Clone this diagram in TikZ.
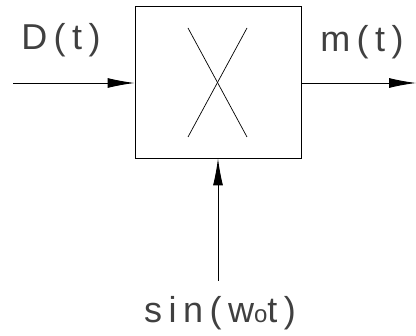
\documentclass[tikz,border=0pt]{standalone}
\usepackage{fontspec}
\setmainfont{Liberation Sans}
\usetikzlibrary{arrows.meta,positioning,calc}

\begin{document}
\begin{tikzpicture}[x=1pt, y=-1pt,
  mbox/.style={rectangle, draw=black, line width=0.9pt,
               minimum width=166pt, minimum height=152pt, inner sep=0pt},
  lbl/.style={font=\fontsize{36}{40}\selectfont\addfontfeature{LetterSpace=18},
              inner sep=0pt, text=black!75},
  arr/.style={-{Latex[length=27pt, width=10pt]}, line width=0.9pt}
]
\useasboundingbox (0,0) rectangle (416,336);

% Multiplier block
\node[mbox] (mixer) at (218,82) {};
\draw[line width=0.7pt] (188,28) -- (247,137);
\draw[line width=0.7pt] (247,28) -- (188,137);

% Free ends
\coordinate (inp) at (13,83);
\coordinate (outp) at (416,83);
\coordinate (carr) at (218,281);

% Labels
\node[lbl] (dlbl) at (61,40) {D(t)};
\node[lbl] (mlbl) at (362,42) {m(t)};
\node[lbl] (slbl) at (220,313) {sin(w{\fontsize{24}{26}\selectfont o}t)};

% Arrows
\draw[arr] (inp) -- (mixer.west |- inp);
\draw[arr] (mixer.east |- outp) -- (outp);
\draw[arr] (carr) -- (mixer.south);
\end{tikzpicture}
\end{document}
